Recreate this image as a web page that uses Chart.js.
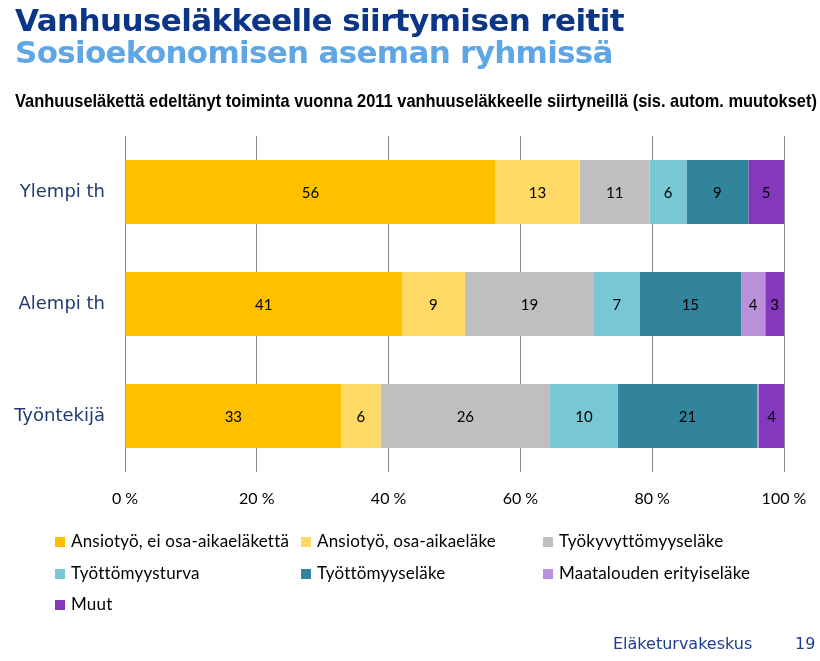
<!DOCTYPE html>
<html>
<head>
<meta charset="utf-8">
<script src="https://cdn.jsdelivr.net/npm/chart.js@4.4.1/dist/chart.umd.min.js"></script>
<style>
  body { margin: 0; background: #fff; }
  #wrap { position: relative; width: 820px; height: 661px; overflow: hidden; }
  #chart { position: absolute; left: 0; top: 0; }
  .t { position: absolute; white-space: nowrap; }
  #title1 { left: 15px; top: 2px; font: bold 31px "DejaVu Sans"; color: #0B3586; letter-spacing: -0.6px; }
  #title2 { left: 15px; top: 34px; font: bold 31px "DejaVu Sans"; color: #5FA6E6; letter-spacing: -0.7px; }
  #subtitle { left: 15px; top: 90px; font: bold 19px "Liberation Sans"; color: #000;
              transform: scaleX(0.864); transform-origin: left top; }
  #legend { position: absolute; left: 55px; top: 530px; width: 740px; }
  .item { position: absolute; font: 17px Lato; color: #000; white-space: nowrap; letter-spacing: 0.2px; }
  .item span { display: inline-block; width: 10px; height: 10px; margin-right: 6px; vertical-align: 0px; }
  #footer { left: 613px; top: 634px; font: 16px "DejaVu Sans"; color: #1F3D8F; }
  #page { left: 795px; top: 634px; font: 16px "DejaVu Sans"; color: #1F3D8F; }
</style>
</head>
<body>
<div id="wrap">
  <canvas id="chart" width="820" height="661"></canvas>
  <div class="t" id="title1">Vanhuuseläkkeelle siirtymisen reitit</div>
  <div class="t" id="title2">Sosioekonomisen aseman ryhmissä</div>
  <div class="t" id="subtitle">Vanhuuseläkettä edeltänyt toiminta vuonna 2011 vanhuuseläkkeelle siirtyneillä (sis. autom. muutokset)</div>
  <div id="legend"></div>
  <div class="t" id="footer">Eläketurvakeskus</div>
  <div class="t" id="page">19</div>
</div>
<script>
const groups = ["Ylempi th", "Alempi th", "Työntekijä"];
const seriesNames = [
    "Ansiotyö, ei osa-aikaeläkettä",
    "Ansiotyö, osa-aikaeläke",
    "Työkyvyttömyyseläke",
    "Työttömyysturva",
    "Työttömyyseläke",
    "Maatalouden erityiseläke",
    "Muut",
];
const colors = ["#FFC000", "#FFD966", "#BFBFBF", "#78C7D4", "#31849B", "#BB91DC", "#8439BD"];

// shares (%) per group, one array per series
const ansiotyo = [56.2, 41.4, 32.8];
const osaAika = [12.8, 9.4, 6.0];
const tyokyvyttomyys = [10.6, 19.3, 25.7];
const tyottomyysturva = [5.6, 6.8, 10.3];
const tyottomyyselake = [9.4, 15.2, 21.1];
const maatalous = [0.0, 3.6, 0.3];
const muut = [5.4, 2.8, 3.8];
const xTicks = ["0 %", "20 %", "40 %", "60 %", "80 %", "100 %"];

const raw = [ansiotyo, osaAika, tyokyvyttomyys, tyottomyysturva, tyottomyyselake, maatalous, muut];
const totals = groups.map((g, i) => raw.reduce((s, arr) => s + arr[i], 0));

const datasets = raw.map((arr, k) => ({
    label: seriesNames[k],
    data: arr.map((v, i) => v / totals[i] * 100),
    raw: arr,
    backgroundColor: colors[k],
    borderWidth: 0,
    categoryPercentage: 1,
    barPercentage: 0.57,
}));

// legend as html, 3 columns
const legendEl = document.getElementById("legend");
const colX = [0, 246, 488];
seriesNames.forEach((name, k) => {
    const d = document.createElement("div");
    d.className = "item";
    d.style.left = colX[k % 3] + "px";
    d.style.top = Math.floor(k / 3) * 31.5 + "px";
    d.innerHTML = '<span style="background:' + colors[k] + '"></span>' + name;
    legendEl.appendChild(d);
});

const valueLabels = {
    id: "valueLabels",
    afterDatasetsDraw(chart) {
        const ctx = chart.ctx;
        ctx.save();
        ctx.font = "15px Lato";
        ctx.fillStyle = "#000";
        ctx.textAlign = "center";
        ctx.textBaseline = "middle";
        chart.data.datasets.forEach((ds, k) => {
            const meta = chart.getDatasetMeta(k);
            meta.data.forEach((bar, i) => {
                const v = Math.round(ds.raw[i]);
                if (v < 1) return;
                const cx = (bar.x + bar.base) / 2;
                ctx.fillText(String(v), cx, bar.y + 1);
            });
        });
        ctx.restore();
    },
};

new Chart(document.getElementById("chart"), {
    type: "bar",
    data: { labels: groups, datasets: datasets },
    options: {
        indexAxis: "y",
        responsive: false,
        animation: false,
        layout: { padding: { top: 136, right: 36, bottom: 149, left: 0 } },
        plugins: { legend: { display: false }, tooltip: { enabled: false } },
        scales: {
            x: {
                stacked: true,
                min: 0,
                max: 100,
                grid: { color: "#8a8a8a", lineWidth: 1, drawTicks: false },
                border: { display: false },
                ticks: {
                    stepSize: 20,
                    padding: 17,
                    color: "#000",
                    font: { family: "Lato", size: 16 },
                    callback: (v) => xTicks[v / 20],
                },
                afterFit: (s) => { s.height = 40; s.paddingRight = 0; s.paddingLeft = 0; },
            },
            y: {
                stacked: true,
                grid: { display: false },
                border: { display: false },
                ticks: {
                    padding: 12,
                    color: "#1F3B73",
                    font: { family: "DejaVu Sans", size: 18 },
                },
                afterFit: (s) => { s.width = 125; },
            },
        },
    },
    plugins: [valueLabels],
});
</script>
</body>
</html>
